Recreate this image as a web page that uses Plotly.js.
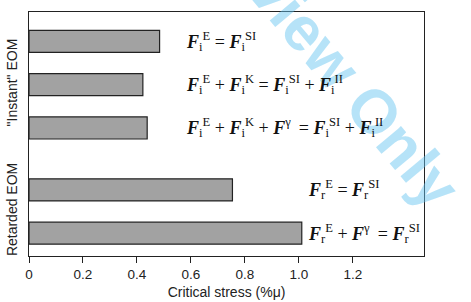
<!DOCTYPE html>
<html>
<head>
<meta charset="utf-8">
<script src="https://cdn.plot.ly/plotly-3.0.1.min.js"></script>
<style>html,body{margin:0;padding:0;background:#fff;}#chart{width:471px;height:302px;}</style>
</head>
<body>
<div id="chart"></div>
<script>
// Data (top to bottom as drawn)
const groups = ['"Instant" EOM', '"Instant" EOM', '"Instant" EOM', 'Retarded EOM', 'Retarded EOM'];
const F = '<b><i>F</i></b>';
const G = '<sup>γ</sup>\u2009';
const equations = [
  F + '<sub>i</sub><sup>E</sup> = ' + F + '<sub>i</sub><sup>SI</sup>',
  F + '<sub>i</sub><sup>E</sup> + ' + F + '<sub>i</sub><sup>K</sup> = ' + F + '<sub>i</sub><sup>SI</sup> + ' + F + '<sub>i</sub><sup>II</sup>',
  F + '<sub>i</sub><sup>E</sup> + ' + F + '<sub>i</sub><sup>K</sup> + ' + F + G + ' = ' + F + '<sub>i</sub><sup>SI</sup> + ' + F + '<sub>i</sub><sup>II</sup>',
  F + '<sub>r</sub><sup>E</sup> = ' + F + '<sub>r</sub><sup>SI</sup>',
  F + '<sub>r</sub><sup>E</sup> + ' + F + G + ' = ' + F + '<sub>r</sub><sup>SI</sup>'
];
const stress = [0.484, 0.422, 0.438, 0.754, 1.011];
const xTicks = [0, 0.2, 0.4, 0.6, 0.8, 1.0, 1.2];
const xTickText = ['0', '0.2', '0.4', '0.6', '0.8', '1.0', '1.2'];

// Layout of bar slots: bars within a group one unit apart, extra gap between groups
const groupGap = 1.43;
const ypos = [];
{
  let y = 0;
  for (let i = groups.length - 1; i >= 0; i--) {
    if (i < groups.length - 1) y += (groups[i] === groups[i + 1]) ? 1 : groupGap;
    ypos[i] = y;
  }
}
const groupNames = [...new Set(groups)];
const groupCenters = groupNames.map(g => {
  const ys = ypos.filter((_, i) => groups[i] === g);
  return (Math.min(...ys) + Math.max(...ys)) / 2;
});

const trace = {
  type: 'bar',
  orientation: 'h',
  x: stress,
  y: ypos,
  width: 0.51,
  marker: {color: '#a2a2a2', line: {color: '#222', width: 1.2}},
  hoverinfo: 'x'
};

const pw = 471 - 29 - 47, ph = 302 - 12 - 46;
const annotations = [{
  x: (329 - 29) / pw, y: 1 - (57 - 12) / ph,
  xref: 'paper', yref: 'paper',
  xanchor: 'center', yanchor: 'middle',
  text: '<b>Review Only</b>', showarrow: false, textangle: 50,
  font: {family: 'Liberation Sans, Arial, sans-serif', size: 62, color: 'rgba(100,195,240,0.47)'}
}];

equations.forEach((t, i) => annotations.push({
  x: stress[i] > 0.6 ? 1.025 : 0.575,
  y: ypos[i],
  xref: 'x', yref: 'y',
  xanchor: 'left', yanchor: 'middle',
  text: t,
  showarrow: false,
  font: {family: 'Liberation Serif, DejaVu Serif, serif', size: 18, color: '#111'}
}));

const layout = {
  width: 471, height: 302,
  margin: {l: 29, r: 47, t: 12, b: 46},
  paper_bgcolor: '#fff', plot_bgcolor: '#fff',
  showlegend: false,
  font: {family: 'Liberation Sans, Arial, sans-serif', size: 13, color: '#222'},
  xaxis: {
    range: [0, 1.464],
    tickvals: xTicks, ticktext: xTickText,
    ticks: 'outside', ticklen: 6, tickcolor: '#222',
    showgrid: false, zeroline: false,
    showline: true, linecolor: '#222', linewidth: 1.2, mirror: true,
    title: {text: 'Critical stress (%μ)', standoff: 5, font: {size: 14}},
    tickfont: {size: 13.5}
  },
  yaxis: {
    range: [-0.527, 5.108],
    tickvals: groupCenters, ticktext: groupNames,
    tickangle: -90, ticks: '', ticklabelstandoff: 5,
    showgrid: false, zeroline: false,
    showline: true, linecolor: '#222', linewidth: 1.2, mirror: true,
    tickfont: {size: 14}
  },
  annotations: annotations
};

Plotly.newPlot('chart', [trace], layout, {displayModeBar: false, staticPlot: true});
</script>
</body>
</html>
